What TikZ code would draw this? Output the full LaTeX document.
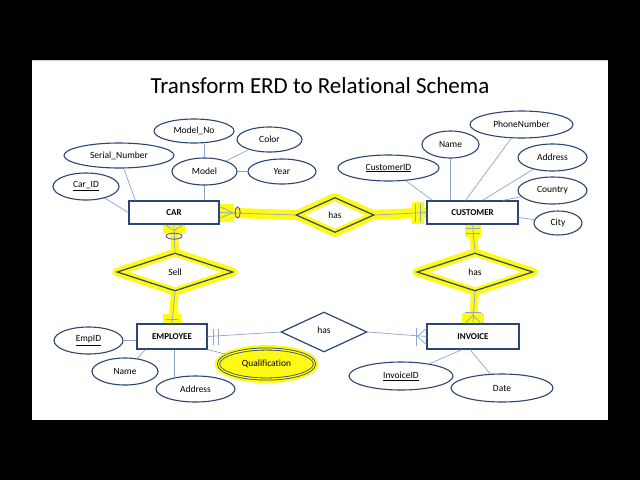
\documentclass[tikz,border=0pt]{standalone}
\usepackage{fontspec}
\setmainfont{Carlito}[Ligatures=NoCommon]
\usetikzlibrary{calc, shapes.geometric, positioning}
\definecolor{navy}{RGB}{44,70,116}
\definecolor{linkblue}{RGB}{140,165,205}
\definecolor{hiyellow}{RGB}{255,250,20}
\definecolor{ringpurple}{RGB}{105,80,140}
\pgfdeclarelayer{slide}
\pgfdeclarelayer{glow}
\pgfsetlayers{slide,glow,main}

\begin{document}
\begin{tikzpicture}[x=1pt,y=-1pt,
  entity/.style={draw=navy, line width=1.3pt, fill=white, minimum width=90pt, minimum height=23pt, inner sep=0pt, font=\bfseries\fontsize{9}{10}\selectfont},
  attr/.style={ellipse, draw=navy, line width=1.1pt, fill=white, inner sep=0pt, font=\fontsize{9.5}{11}\selectfont},
  rel/.style={diamond, draw=navy, line width=1.2pt, aspect=1, inner sep=0pt, font=\fontsize{9.5}{11}\selectfont},
  link/.style={draw=linkblue, line width=0.7pt},
  glow/.style={draw=hiyellow, line width=8pt}
]
  \useasboundingbox (0,0) rectangle (640,480);

  % Draw the slide
  \begin{pgfonlayer}{slide}
    \fill[black] (0,0) rectangle (640,480);
    \fill[white] (32,60) rectangle (608,420);
    \draw[black!20, line width=1pt] (32,60.5) -- (608,60.5);
  \end{pgfonlayer}

  % Title
  \node[font=\fontsize{23}{27}\selectfont] (title) at (320,86) {Transform ERD to Relational Schema};

  % Entities
  \node[entity] (car) at (174,212.5) {CAR};
  \node[entity, minimum width=91pt] (customer) at (472.5,212.5) {CUSTOMER};
  \node[entity, minimum width=70pt, minimum height=25pt] (employee) at (172,336.5) {EMPLOYEE};
  \node[entity, minimum width=92pt, minimum height=25pt] (invoice) at (473,336.5) {INVOICE};

  % Relationships
  \node[rel, minimum width=78pt, minimum height=35pt] (hastop) at (335,215) {has};
  \node[rel, minimum width=116pt, minimum height=38pt] (sell) at (175,272) {Sell};
  \node[rel, minimum width=116pt, minimum height=38pt] (hasright) at (475,272) {has};
  \node[rel, minimum width=86pt, minimum height=40pt] (hasbot) at (324,332) {\raisebox{3pt}{has}};

  % Attributes of CAR
  \node[attr, minimum width=66pt, minimum height=27pt] (carid) at (86,186.5) {\underline{Car\_ID}};
  \node[attr, minimum width=110pt, minimum height=25pt] (serial) at (119,155.5) {Serial\_Number};
  \node[attr, minimum width=80pt, minimum height=24pt] (modelno) at (194,131) {Model\_No};
  \node[attr, minimum width=65pt, minimum height=27pt] (model) at (204.5,171.5) {Model};
  \node[attr, minimum width=65pt, minimum height=25pt] (color) at (269.5,139.5) {Color};
  \node[attr, minimum width=68pt, minimum height=25pt] (year) at (282,171.5) {Year};

  % Attributes of CUSTOMER
  \node[attr, minimum width=101pt, minimum height=26pt] (custid) at (388.5,168) {\underline{CustomerID}};
  \node[attr, minimum width=57pt, minimum height=27pt] (custname) at (450.5,144.5) {Name};
  \node[attr, minimum width=103pt, minimum height=27pt] (phone) at (521.5,124.5) {PhoneNumber};
  \node[attr, minimum width=69pt, minimum height=27pt] (address) at (552.5,157.5) {Address};
  \node[attr, minimum width=69pt, minimum height=27pt] (country) at (552.5,190.5) {Country};
  \node[attr, minimum width=48pt, minimum height=24pt] (city) at (558,223) {City};

  % Attributes of EMPLOYEE
  \node[attr, minimum width=69pt, minimum height=27pt] (empid) at (88.5,340.5) {\underline{EmpID}};
  \node[attr, minimum width=66pt, minimum height=27pt] (empname) at (125,371.5) {Name};
  \node[attr, minimum width=79pt, minimum height=26pt] (empaddr) at (195.5,389) {Address};
  \node[attr, minimum width=96pt, minimum height=30pt, fill=hiyellow, double=hiyellow, double distance=1.3pt, line width=0.8pt] (qual) at (266.5,364) {Qualification};

  % Attributes of INVOICE
  \node[attr, minimum width=104pt, minimum height=28pt] (invid) at (401,376) {\underline{InvoiceID}};
  \node[attr, minimum width=102pt, minimum height=28pt] (date) at (502,388) {Date};

  % Highlighted parts
  \begin{pgfonlayer}{glow}
    \draw[glow, line width=10pt] (car.east) -- (hastop.west);
    \draw[glow, line width=10pt] (hastop.east) -- (customer.west);
    \fill[hiyellow] ($(car.east)+(0,-9)$) rectangle ($(car.east)+(14,9)$);
    \fill[hiyellow] ($(customer.west)+(-14,-11)$) rectangle ($(customer.west)+(-2,11)$);
    \draw[glow, line join=round] (hastop.north) -- (hastop.east) -- (hastop.south) -- (hastop.west) -- cycle;
    \draw[glow] (car.south) -- (sell.north);
    \draw[glow] (sell.south) -- (employee.north);
    \fill[hiyellow] ($(car.south)+(-11,0)$) rectangle ($(car.south)+(11,8)$);
    \fill[hiyellow] ($(employee.north)+(-9,-9)$) rectangle ($(employee.north)+(9,0)$);
    \draw[glow, line join=round] (sell.north) -- (sell.east) -- (sell.south) -- (sell.west) -- cycle;
    \draw[glow] (customer.south) -- (hasright.north);
    \draw[glow] (hasright.south) -- (invoice.north);
    \fill[hiyellow] ($(customer.south)+(-8,0)$) rectangle ($(customer.south)+(8,12)$);
    \fill[hiyellow] ($(invoice.north)+(-11,-10)$) rectangle ($(invoice.north)+(11,0)$);
    \draw[glow, line join=round] (hasright.north) -- (hasright.east) -- (hasright.south) -- (hasright.west) -- cycle;
    \fill[hiyellow] (qual) ellipse (52 and 19);
  \end{pgfonlayer}

  % Attribute lines
  \draw[link] (carid) -- (car.west);
  \draw[link] (serial) -- ($(car.north west)+(7,0)$);
  \draw[link] (model) -- (model |- car.north);
  \draw[link] (model.north) -- (model.north |- modelno.south);
  \draw[link] (model) -- (color);
  \draw[link] (model) -- (year);
  \draw[link] (custid) -- ($(customer.north west)+(6,0)$);
  \draw[link] (custname.south) -- (custname.south |- customer.north);
  \draw[link] (phone) -- ($(customer.north)+(-7,0)$);
  \draw[link] (address) -- ($(customer.north)+(10,0)$);
  \draw[link] (country) -- ($(customer.north east)+(-16,0)$);
  \draw[link] (city) -- ($(customer.east)+(0,5)$);
  \draw[link] (empid) -- (empid -| employee.west);
  \draw[link] (empname) -- ($(employee.south west)+(9,0)$);
  \draw[link] (empaddr.152) -- (empaddr.152 |- employee.south);
  \draw[link] (qual) -- (employee.south east);
  \draw[link] (invid) -- ($(invoice.south)+(-11,0)$);
  \draw[link] (date) -- ($(invoice.south)+(-3,0)$);

  % Relationship lines
  \draw[link] (car.east) -- (hastop.west);
  \draw[link] (hastop.east) -- (customer.west);
  \draw[link] (car.south) -- (sell.north);
  \draw[link] (sell.south) -- (employee.north);
  \draw[link] (customer.south) -- (hasright.north);
  \draw[link] (hasright.south) -- (invoice.north);
  \draw[link] (employee.east) -- (hasbot.west);
  \draw[link] (hasbot.east) -- (invoice.west);

  % Cardinality marks
  \draw[link] ($(car.east)+(0,-6)$) -- ($(car.east)+(13,0)$) -- ($(car.east)+(0,6)$);
  \draw[ringpurple, line width=0.9pt] ($(car.east)+(18,0)$) ellipse (2.5 and 5.5);
  \draw[link] ($(customer.west)+(-11,-9)$) -- ($(customer.west)+(-11,9)$);
  \draw[link] ($(customer.west)+(-6,-9)$) -- ($(customer.west)+(-6,9)$);
  \draw[link] ($(car.south)+(-9,0)$) -- ($(car.south)+(0,6)$) -- ($(car.south)+(9,0)$);
  \draw[ringpurple, line width=0.9pt] ($(car.south)+(0,11.5)$) ellipse (8 and 3);
  \draw[link] ($(employee.north)+(-6,-4)$) -- ($(employee.north)+(6,-4)$);
  \draw[link] ($(customer.south)+(-7,4)$) -- ($(customer.south)+(7,4)$);
  \draw[link] ($(customer.south)+(-7,9)$) -- ($(customer.south)+(7,9)$);
  \draw[link] ($(invoice.north)+(-8,0)$) -- ($(invoice.north)+(0,-8)$) -- ($(invoice.north)+(8,0)$);
  \draw[link] ($(invoice.north)+(-8,-11)$) -- ($(invoice.north)+(8,-11)$);
  \draw[link] ($(employee.east)+(6,-8)$) -- ($(employee.east)+(6,8)$);
  \draw[link] ($(employee.east)+(11,-8)$) -- ($(employee.east)+(11,8)$);
  \draw[link] ($(invoice.west)+(0,-8)$) -- ($(invoice.west)+(-9,0)$) -- ($(invoice.west)+(0,8)$);
  \draw[link] ($(invoice.west)+(-10,-9)$) -- ($(invoice.west)+(-10,9)$);

\end{tikzpicture}
\end{document}
